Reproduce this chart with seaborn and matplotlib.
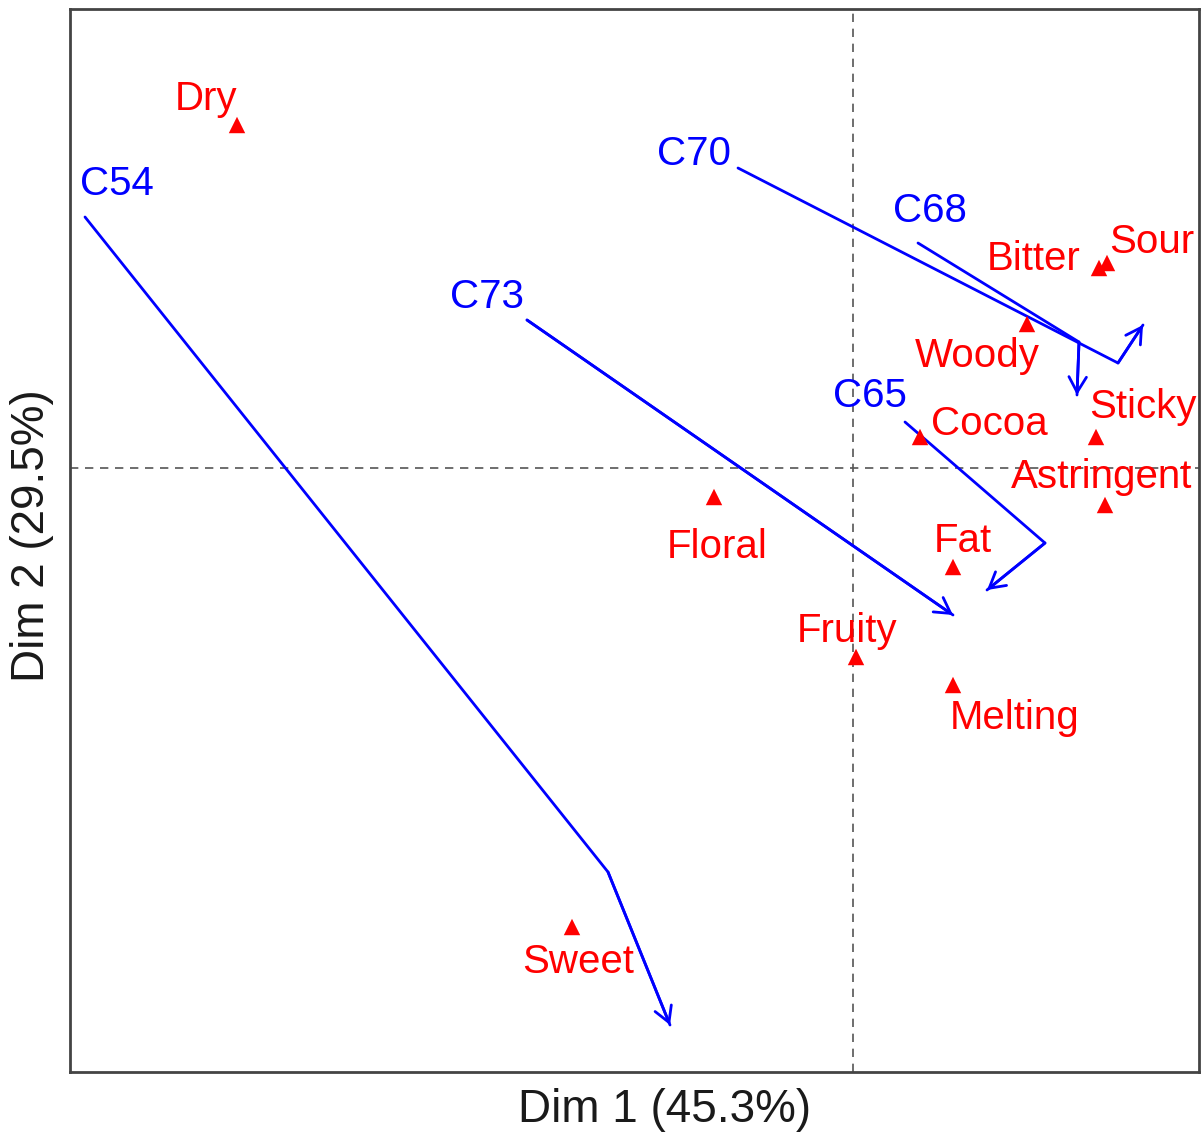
import numpy as np
import pandas as pd
import matplotlib
matplotlib.use("Agg")
import matplotlib.pyplot as plt
import seaborn as sns

# Sensory attributes (supplementary points)
attributes = ["Dry", "Bitter", "Sour", "Woody", "Sticky", "Cocoa",
              "Astringent", "Fat", "Floral", "Fruity", "Melting", "Sweet"]
attr_dim1 = [-3.08, 1.23, 1.27, 0.87, 1.215, 0.335,
             1.26, 0.50, -0.695, 0.015, 0.50, -1.405]
attr_dim2 = [1.715, 1.00, 1.025, 0.72, 0.155, 0.155,
             -0.185, -0.495, -0.145, -0.945, -1.085, -2.295]

# Product trajectories across tasting time
products = ["C54", "C73", "C65", "C70", "C68"]
traj_dim1 = {
    "C54": [-3.84, -1.225, -0.915],
    "C73": [-1.63, 0.50],
    "C65": [0.26, 0.96, 0.67],
    "C70": [-0.575, 1.325, 1.45],
    "C68": [0.325, 1.13, 1.12],
}
traj_dim2 = {
    "C54": [1.255, -2.02, -2.785],
    "C73": [0.74, -0.735],
    "C65": [0.23, -0.375, -0.61],
    "C70": [1.50, 0.525, 0.715],
    "C68": [1.125, 0.63, 0.365],
}

xlabel = "Dim 1 (45.3%)"
ylabel = "Dim 2 (29.5%)"

# Label offsets (pixels, x right / y down) relative to the anchor point
attr_offsets = {
    "Dry": (-31, -15), "Bitter": (-65, 2), "Sour": (45, -10),
    "Woody": (-50, 43), "Sticky": (47, -19), "Cocoa": (69, -2),
    "Astringent": (-3, -17), "Fat": (10, -15), "Floral": (3, 61),
    "Fruity": (-9, -15), "Melting": (62, 44), "Sweet": (6, 46),
}
prod_offsets = {
    "C54": (32, -22), "C73": (-40, -12), "C70": (-44, -3),
    "C68": (12, -21), "C65": (-35, -15),
}

sns.set_theme(style="white")
plt.rcParams["font.family"] = ["Liberation Sans", "DejaVu Sans"]

RED = "#ff0000"
BLUE = "#0000ff"

fig = plt.figure(figsize=(12.03, 11.35), dpi=100)
ax = fig.add_axes([70 / 1203, 1 - 1072 / 1135, (1199 - 70) / 1203, (1072 - 9) / 1135])

attr_df = pd.DataFrame({"attribute": attributes, "dim1": attr_dim1, "dim2": attr_dim2})
traj_df = pd.DataFrame([
    {"product": p, "step": i, "dim1": x, "dim2": y}
    for p in products
    for i, (x, y) in enumerate(zip(traj_dim1[p], traj_dim2[p]))
])

# Reference axes through the origin
ax.axhline(0, color="#555555", lw=1.2, ls=(0, (5, 4)), zorder=1)
ax.axvline(0, color="#555555", lw=1.2, ls=(0, (5, 4)), zorder=1)

# Trajectories
sns.lineplot(data=traj_df, x="dim1", y="dim2", units="product", estimator=None,
             sort=False, color=BLUE, lw=2.0, ax=ax, zorder=3)
for p in products:
    xs, ys = traj_dim1[p], traj_dim2[p]
    ax.annotate("", xy=(xs[-1], ys[-1]), xytext=(xs[-2], ys[-2]),
                arrowprops=dict(arrowstyle="->,head_length=1.1,head_width=0.63",
                                color=BLUE, lw=2.0, shrinkA=0, shrinkB=0,
                                mutation_scale=10),
                zorder=3)
    dx, dy = prod_offsets[p]
    ax.annotate(p, xy=(xs[0], ys[0]), xytext=(dx, -dy), textcoords="offset pixels",
                ha="center", va="baseline", color=BLUE, fontsize=29, zorder=4)

# Attribute points
sns.scatterplot(data=attr_df, x="dim1", y="dim2", marker="^", color=RED,
                s=140, edgecolor="none", ax=ax, zorder=4)
for name, x, y in zip(attributes, attr_dim1, attr_dim2):
    dx, dy = attr_offsets[name]
    ax.annotate(name, xy=(x, y), xytext=(dx, -dy), textcoords="offset pixels",
                ha="center", va="baseline", color=RED, fontsize=29, zorder=4)

ax.set_xlim((70 - 853) / 200, (1199 - 853) / 200)
ax.set_ylim((468 - 1072) / 200, (468 - 9) / 200)
ax.set_xticks([])
ax.set_yticks([])
for s in ax.spines.values():
    s.set_visible(True)
    s.set_color("#444444")
    s.set_linewidth(2)

ax.set_xlabel("")
ax.set_ylabel("")
fig.text(665 / 1203, 1 - 1110 / 1135, xlabel, ha="center", va="center",
         fontsize=33, color="#1a1a1a")
fig.text(32 / 1203, 1 - 536 / 1135, ylabel, ha="center", va="center",
         rotation=90, fontsize=33, color="#1a1a1a")

fig.savefig("out.png", dpi=100)
